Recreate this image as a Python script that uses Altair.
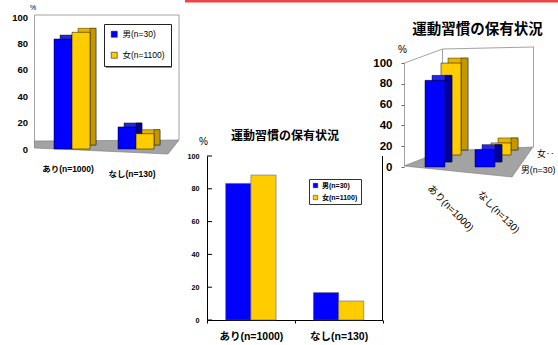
import altair as alt
import pandas as pd

# --- chart values -------------------------------------------------------
categories = ["あり(n=1000)", "なし(n=130)"]
series = ["男(n=30)", "女(n=1100)"]
male_pct = [83.3, 16.7]
female_pct = [88.4, 11.6]
y_ticks = [0, 20, 40, 60, 80, 100]
title_text = "運動習慣の保有状況"
depth_labels = ["男(n=30)", "女‥"]

rows = []
for cat, m, f in zip(categories, male_pct, female_pct):
    rows.append({"category": cat, "sex": series[0], "pct": m})
    rows.append({"category": cat, "sex": series[1], "pct": f})
df = pd.DataFrame(rows)
cat_df = pd.DataFrame({"category": categories})
tick_df = pd.DataFrame({"tick": y_ticks})
one = alt.Data(values=[{}])

FONT = "Liberation Sans, Noto Sans CJK JP, sans-serif"
BLUE, BLUE_TOP, BLUE_SIDE = "#0000ff", "#2626e6", "#00009c"
GOLD, GOLD_TOP, GOLD_SIDE = "#ffcc00", "#e6b400", "#c49600"
FACES = {series[0]: (BLUE, BLUE_TOP, BLUE_SIDE), series[1]: (GOLD, GOLD_TOP, GOLD_SIDE)}
color_scale = alt.Scale(domain=series, range=[BLUE, GOLD])


def shape(path, fill=None, stroke=None, width=1.0):
    """Decorative outline / fill drawn as a custom symbol path in pixel units."""
    kw = dict(shape=path, size=4, opacity=1)
    if fill:
        kw.update(filled=True, fill=fill)
    else:
        kw.update(filled=False, fill="transparent")
    if stroke:
        kw.update(stroke=stroke, strokeWidth=width)
    else:
        kw.update(strokeWidth=0)
    return alt.Chart(one).mark_point(**kw).encode(x=alt.value(0), y=alt.value(0))


def text(label, x, y, size, weight="normal", align="center", angle=0):
    kw = dict(text=label, font=FONT, fontSize=size, fontWeight=weight,
              align=align, baseline="middle", color="#000")
    if angle:
        kw["angle"] = angle
    return alt.Chart(one).mark_text(**kw).encode(x=alt.value(x), y=alt.value(y))


def boxes(sex, xenc, yenc, width, xoff=0, yoff=0, dx=0, dy=0, legend=None,
          stroke="#000", part="all"):
    """Bars for one series; with dx/dy a top and side face give a block look."""
    front, top, side = FACES[sex]
    base = alt.Chart(df).transform_filter(alt.datum.sex == sex)
    out = []
    if dx and part in ("all", "depth"):
        out.append(base.mark_bar(width=width, xOffset=xoff + dx, yOffset=yoff + dy,
                                 y2Offset=yoff + dy, color=top, stroke=stroke,
                                 strokeWidth=0.4).encode(x=xenc, y=yenc))
        out.append(base.mark_bar(width=dx, xOffset=xoff + width / 2 + dx / 2,
                                 yOffset=yoff + dy, y2Offset=yoff, color=side,
                                 stroke=stroke, strokeWidth=0.4).encode(x=xenc, y=yenc))
    if part in ("all", "front"):
        enc = dict(x=xenc, y=yenc)
        if legend is not None:
            enc["color"] = alt.Color("sex:N", scale=color_scale, legend=legend)
        else:
            enc["color"] = alt.value(front)
        out.append(base.mark_bar(width=width, xOffset=xoff, yOffset=yoff, y2Offset=yoff,
                                 stroke=stroke, strokeWidth=0.5).encode(**enc))
    return out


# --- left panel: 3-D clustered columns ------------------------------------
xs1 = alt.Scale(domain=categories, range=[40, 168], paddingInner=0, paddingOuter=0)
ys1 = alt.Scale(domain=[0, 100], range=[149, 17], nice=False)
yax1 = alt.Axis(orient="left", offset=-34.5, values=y_ticks, domain=False, ticks=False,
                grid=False, labelPadding=7, labelFont=FONT, labelFontSize=9.5,
                labelFontWeight="bold", labelColor="#000", title="%", titleAngle=0,
                titleX=-2, titleY=7, titleFont=FONT, titleFontSize=7,
                titleFontWeight="normal", titleAlign="center", titleBaseline="middle",
                titleColor="#000")
x1 = alt.X("category:N", scale=xs1, axis=None, sort=categories)
y1 = alt.Y("pct:Q", scale=ys1, axis=yax1)
leg1 = alt.Legend(orient="none", legendX=104, legendY=24, direction="vertical", title=None,
                  strokeColor="#222", fillColor="#ffffff", padding=6, rowPadding=12,
                  symbolType="square", symbolSize=36, symbolStrokeColor="#000",
                  symbolStrokeWidth=0.5, labelFont=FONT, labelFontSize=8.5,
                  labelOffset=4, labelColor="#000")

left_layers = [
    shape("M34.5,141 L179,140 L168,154 L34.5,148 Z", fill="#a3a3a3", stroke="#777", width=0.6),
    shape("M34.5,147 L34.5,15 L179,15 L179,140", stroke="#8a8a8a", width=0.8),
    shape("M106,27 L172,27 L172,68 L106,68 Z", fill="#8c8c8c"),
]
for sex, xo in zip(series, [-9, 9]):
    left_layers += boxes(sex, x1, y1, 18, xoff=xo, dx=6, dy=-4, part="depth")
for sex, xo in zip(series, [-9, 9]):
    left_layers += boxes(sex, x1, y1, 18, xoff=xo, legend=leg1, part="front")
for cat, ty in zip(categories, [168.5, 173.5]):
    left_layers.append(
        alt.Chart(cat_df).transform_filter(alt.datum.category == cat)
        .mark_text(font=FONT, fontSize=8.5, fontWeight="bold", xOffset=-4, baseline="middle",
                   color="#000")
        .encode(x=x1, y=alt.value(ty), text="category:N"))
left = alt.layer(*left_layers)

# --- middle panel: flat clustered columns ---------------------------------
xs2 = alt.Scale(domain=categories, range=[207, 382.5], paddingInner=0, paddingOuter=0)
ys2 = alt.Scale(domain=[0, 100], range=[320, 156], nice=False)
yax2 = alt.Axis(orient="left", offset=-207, values=y_ticks, domain=True, domainColor="#000",
                ticks=False, grid=False, labelPadding=8, labelFont=FONT, labelFontSize=7.2,
                labelFontWeight="bold", labelColor="#000", title="%", titleAngle=0,
                titleX=-4, titleY=141, titleFont=FONT, titleFontSize=10,
                titleFontWeight="normal", titleAlign="center", titleBaseline="middle",
                titleColor="#000")
xax2 = alt.Axis(orient="bottom", offset=-25, domain=True, domainColor="#000", ticks=True,
                tickBand="extent", tickSize=3, tickColor="#000", labelPadding=8,
                labelFont=FONT, labelFontSize=10.5, labelFontWeight="bold", labelColor="#000",
                labelAngle=0, title=None, grid=False)
x2 = alt.X("category:N", scale=xs2, axis=xax2, sort=categories)
y2 = alt.Y("pct:Q", scale=ys2, axis=yax2)
leg2 = alt.Legend(orient="none", legendX=309, legendY=179, direction="vertical", title=None,
                  strokeColor="#333", fillColor="#ffffff", padding=3, rowPadding=4,
                  symbolType="square", symbolSize=20, symbolStrokeColor="#000",
                  symbolStrokeWidth=0.4, labelFont=FONT, labelFontSize=7,
                  labelFontWeight="bold", labelOffset=3, labelColor="#000")

mid_layers = [
    text(title_text, 285, 136, 12, weight="bold"),
    alt.Chart(one).mark_rule(color="#000", strokeWidth=1).encode(
        x=alt.value(382.5), y=alt.Y(datum=100, type="quantitative", scale=ys2, axis=yax2),
        y2=alt.Y2(datum=0)),
    alt.Chart(tick_df).mark_rule(color="#000", strokeWidth=1).encode(
        x=alt.value(207), x2=alt.value(212), y=alt.Y("tick:Q", scale=ys2, axis=yax2)),
]
for sex, xo in zip(series, [-12.6, 12.6]):
    mid_layers += boxes(sex, x2, y2, 25.2, xoff=xo, legend=leg2, stroke="#555", part="front")
middle = alt.layer(*mid_layers)

# --- right panel: 3-D columns in two depth rows ---------------------------
xs3 = alt.Scale(domain=categories, range=[410, 510], paddingInner=0, paddingOuter=0)
ys3 = alt.Scale(domain=[0, 100], range=[167, 63], nice=False)
yax3 = alt.Axis(orient="left", offset=-404, values=y_ticks, domain=False, ticks=True,
                tickSize=3, tickColor="#666", grid=False, labelPadding=9, labelFont=FONT,
                labelFontSize=11.5, labelFontWeight="bold", labelColor="#000", title="%",
                titleAngle=0, titleX=-2, titleY=49, titleFont=FONT, titleFontSize=10,
                titleFontWeight="normal", titleAlign="center", titleBaseline="middle",
                titleColor="#000")
x3 = alt.X("category:N", scale=xs3, axis=None, sort=categories)
y3 = alt.Y("pct:Q", scale=ys3, axis=yax3)

right_layers = [
    text(title_text, 477.5, 30, 14.5, weight="bold"),
    shape("M404,166 L442,151 L533,147 L512,177 Z", fill="#a3a3a3", stroke="#777", width=0.6),
    shape("M404.5,166 L404.5,63 L442.5,49 L533.5,47 L533.5,147 M442.5,49 L442.5,151",
          stroke="#8a8a8a", width=0.8),
]
# back row first, then the front row over it
right_layers += boxes(series[1], x3, y3, 20, xoff=16, yoff=-12, dx=7, dy=-5)
right_layers += boxes(series[0], x3, y3, 20, xoff=0, yoff=0, dx=7, dy=-5)
for cat, ty in zip(categories, [187, 193]):
    right_layers.append(
        alt.Chart(cat_df).transform_filter(alt.datum.category == cat)
        .mark_text(font=FONT, fontSize=10, angle=45, align="left", baseline="middle",
                   xOffset=-6, color="#000")
        .encode(x=x3, y=alt.value(ty), text="category:N"))
for label, (lx, ly) in zip(depth_labels, [(521, 170), (537, 154)]):
    right_layers.append(text(label, lx, ly, 8.8, align="left"))
right = alt.layer(*right_layers)

# --- page decoration -------------------------------------------------------
deco = shape("M185,0 L558,0 L558,2.5 L185,2.5 Z", fill="#f04444")

chart = (
    alt.layer(left, middle, right, deco)
    .resolve_scale(x="independent", y="independent", color="independent")
    .properties(width=558, height=345, padding=0, background="#ffffff",
                autosize=alt.AutoSizeParams(type="none"))
    .configure_view(stroke=None)
)

chart.save("out.html", embed_options={"renderer": "svg", "actions": False})
